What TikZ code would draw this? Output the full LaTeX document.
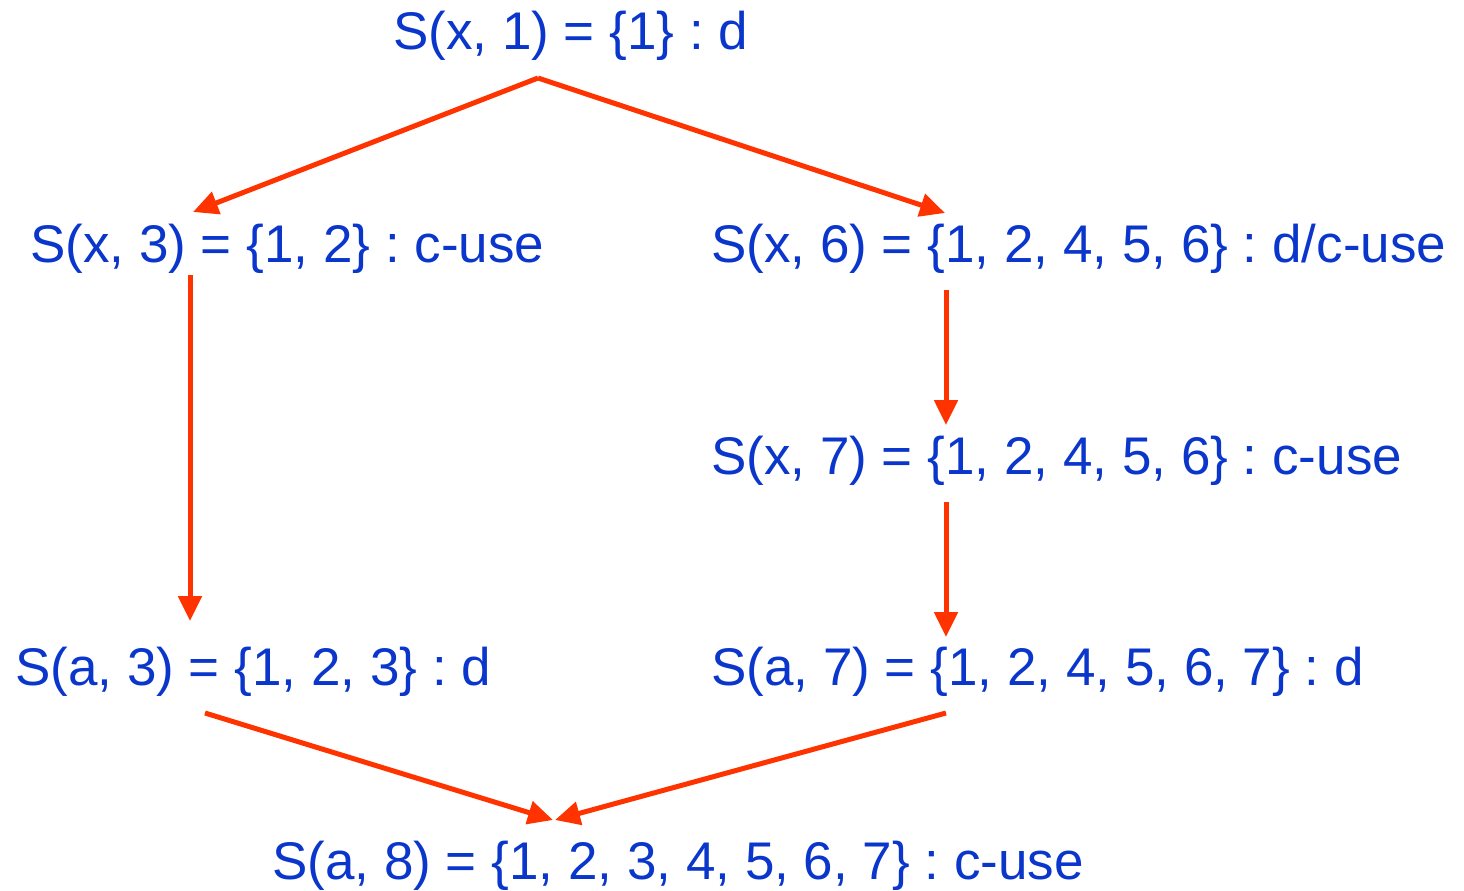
\documentclass[tikz,border=0pt]{standalone}
\usepackage{fontspec}
\setmainfont{Liberation Sans}
\usetikzlibrary{arrows.meta}
\definecolor{txtblue}{HTML}{0A36CC}
\definecolor{arrred}{HTML}{FF3300}
\frenchspacing
\begin{document}
\begin{tikzpicture}[x=1pt,y=-1pt,
  lbl/.style={anchor=base west,inner sep=0pt,text=txtblue,font=\fontsize{53}{60}\selectfont},
  arr/.style={draw=arrred,line width=5pt,-{Triangle[length=25pt,width=23pt]}}]
\useasboundingbox (0,0) rectangle (1464,891);
\node[lbl] (n1) at (393,50) {S(x, 1) = \{1\} : d};
\node[lbl] (n2) at (30,262) {S(x, 3) = \{1, 2\} : c-use};
\node[lbl] (n3) at (711,262) {S(x, 6) = \{1, 2, 4, 5, 6\} : d/c-use};
\node[lbl] (n4) at (711,474) {S(x, 7) = \{1, 2, 4, 5, 6\} : c-use};
\node[lbl] (n5) at (15,685) {S(a, 3) = \{1, 2, 3\} : d};
\node[lbl] (n6) at (711,685) {S(a, 7) = \{1, 2, 4, 5, 6, 7\} : d};
\node[lbl] (n7) at (272,879) {S(a, 8) = \{1, 2, 3, 4, 5, 6, 7\} : c-use};
\coordinate (t1) at (538,78);
\coordinate (l2t) at (193,212);
\coordinate (r3t) at (945,213);
\coordinate (l2b) at (190,275);
\coordinate (l5t) at (190,621);
\coordinate (r3b) at (946,290);
\coordinate (r4t) at (946,425);
\coordinate (r4b) at (946,502);
\coordinate (r6t) at (946,637);
\coordinate (l5b) at (205,713);
\coordinate (r6b) at (946,713);
\coordinate (b7l) at (553,820);
\coordinate (b7r) at (555,820);
\draw[arr] (t1) -- (l2t);
\draw[arr] (t1) -- (r3t);
\draw[arr] (l2b) -- (l5t);
\draw[arr] (r3b) -- (r4t);
\draw[arr] (r4b) -- (r6t);
\draw[arr] (l5b) -- (b7l);
\draw[arr] (r6b) -- (b7r);
\end{tikzpicture}
\end{document}
